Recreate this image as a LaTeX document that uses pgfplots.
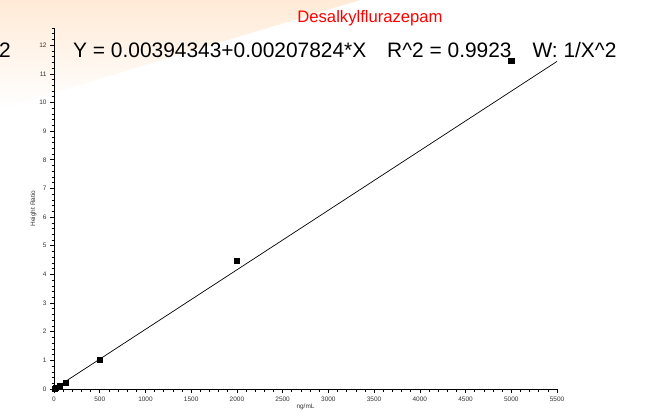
\documentclass[border=0pt]{standalone}
\usepackage{pgfplots}
\pgfplotsset{compat=1.18}
\usepackage{fontspec}
\setmainfont{Liberation Sans}

% calibration points: concentration (ng/mL) vs. height ratio
\pgfplotstableread{
x y
5 0.01
20 0.04
60 0.12
125 0.23
500 1.02
2000 4.48
5000 11.45
}\calpoints

% weighted linear fit  Y = 0.00394343 + 0.00207824 X
\pgfplotstableread{
x y
0 0.00394343
5500 11.43426343
}\fitline

\begin{document}
\begin{tikzpicture}[x=1bp,y=1bp]
\useasboundingbox (0,0) rectangle (647,419);
\fill[white] (0,0) rectangle (647,419);
% soft slide background in the upper left corner
\begin{scope}
\clip (0,419) -- (360,419) -- (0,310) -- cycle;
\shade[top color=orange!16, bottom color=white] (0,310) rectangle (360,419);
\end{scope}

\begin{axis}[
  at={(54bp,30bp)}, anchor=south west,
  scale only axis, width=503bp, height=361bp,
  xmin=0, xmax=5500, ymin=0, ymax=12.6,
  axis x line=bottom, axis y line=left,
  axis line style={-, line width=0.8pt},
  xtick={0,500,...,5500},
  minor xtick={100,200,...,5400},
  ytick={0,1,...,12},
  minor ytick={0.2,0.4,...,12.61},
  tick align=outside,
  major tick length=4bp, minor tick length=2.5bp,
  every tick/.style={black, line width=0.6pt},
  scaled x ticks=false,
  /pgf/number format/assume math mode=true,
  /pgf/number format/1000 sep={},
  tick label style={font=\fontsize{6.5}{7}\selectfont, color=black!80},
  xlabel={ng/mL}, ylabel={Height Ratio},
  label style={font=\fontsize{6.5}{7}\selectfont, color=black!80},
  xlabel style={yshift=4bp},
  ylabel style={yshift=-4bp},
  clip=false,
]
\addplot[black, line width=0.7pt] table[x=x,y=y] {\fitline};
\addplot[only marks, mark=square*, mark size=2.6bp, black] table[x=x,y=y] {\calpoints};
\end{axis}

\node[text=red, font=\fontsize{16.7}{18}\selectfont] at (370,401) {Desalkylflurazepam};
\node[anchor=base west, inner sep=0, font=\fontsize{21}{22}\selectfont] at (73,362)
  {Y = 0.00394343+0.00207824*X\hspace{1em}R\^{}2 = 0.9923\hspace{1em}W: 1/X\^{}2};
\node[anchor=base east, inner sep=0, font=\fontsize{21}{22}\selectfont] at (11,362) {2};
\end{tikzpicture}
\end{document}
